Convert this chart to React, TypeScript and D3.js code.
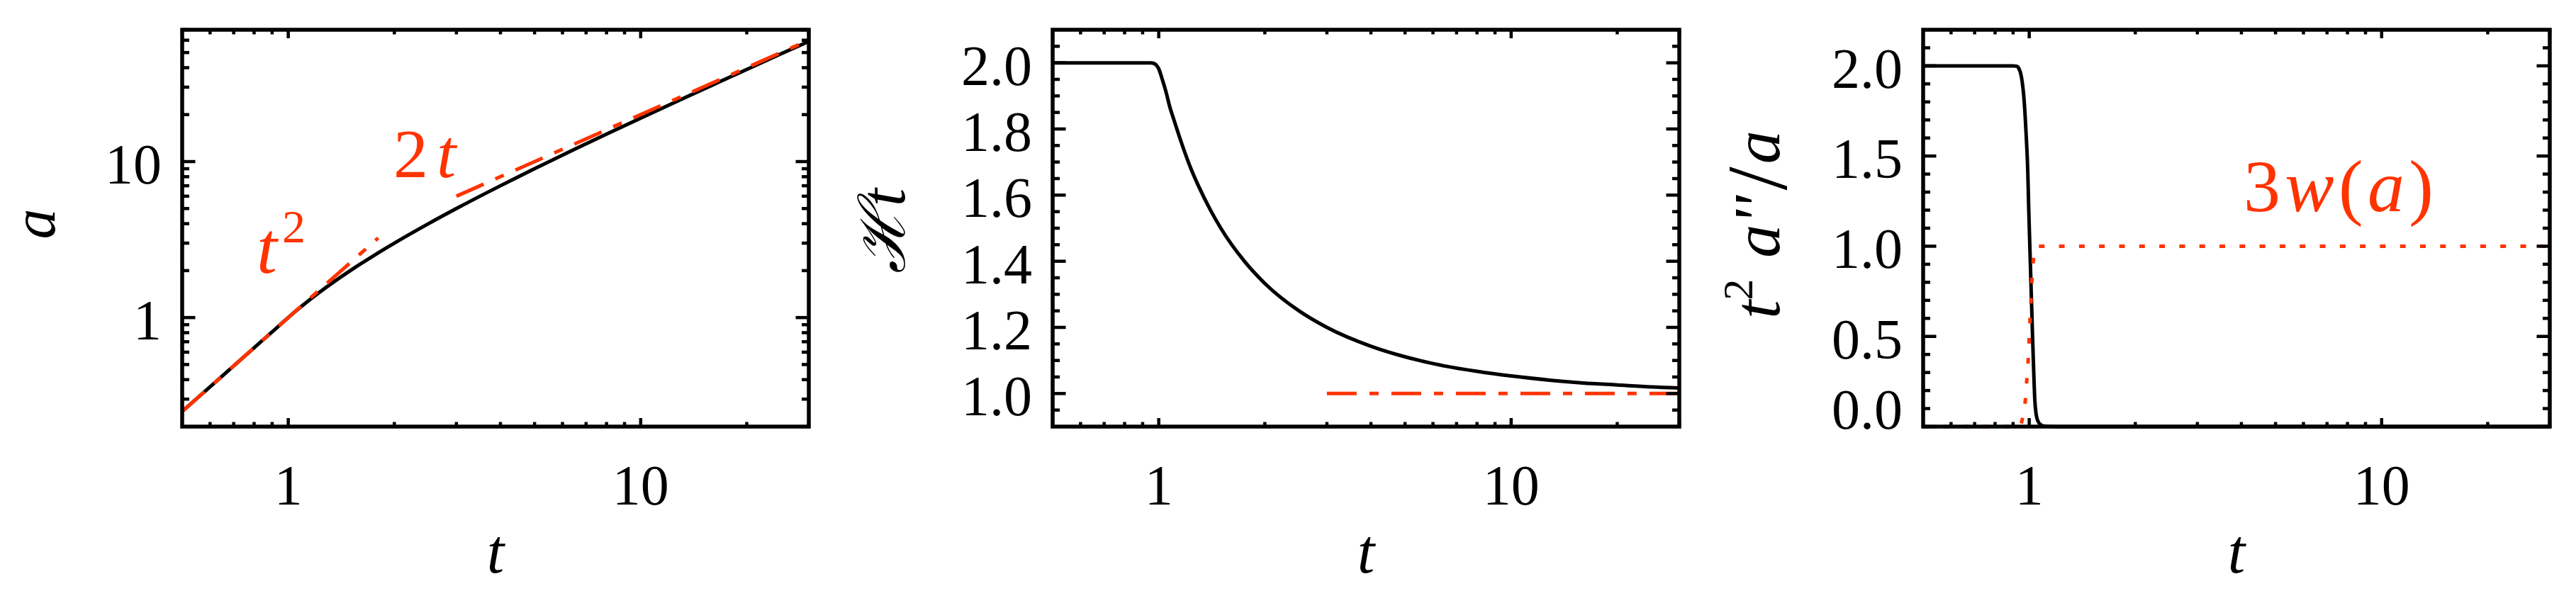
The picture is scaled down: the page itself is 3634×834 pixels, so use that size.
import React from 'react';
import * as d3 from 'd3';

// ---------- data ----------
// Panel 1: scale factor a(t)
const scaleT = [0.5, 0.6, 0.7, 0.8, 0.9, 0.95, 1.0, 1.05, 1.1, 1.2, 1.35, 1.5, 1.75, 2, 2.5, 3, 4, 5, 6.5, 8, 10, 13, 16, 20, 25, 30];
const scaleA = [0.25, 0.36, 0.49, 0.64, 0.81, 0.9025, 1.0, 1.1, 1.2, 1.4, 1.7, 2.0, 2.5, 3.0, 4.0, 5.0, 7.0, 9.0, 12, 15, 19, 25, 31, 39, 49, 59];
// Reference power laws t^2 and 2t
const guideT2T = [0.5, 1.8];
const guideT2A = [0.25, 3.24];
const guide2tT = [3, 30];
const guide2tA = [6, 60];

// Panel 2: H t
const hubbleT = [0.5, 0.9, 0.95, 0.97, 0.99, 1.0, 1.02, 1.05, 1.074, 1.1, 1.15, 1.234, 1.3, 1.4, 1.5, 1.75, 2, 2.5, 3, 4, 5, 6.5, 8, 10, 13, 16, 20, 25, 30];
const hubbleHt = [2.0, 2.0, 2.0, 1.998, 1.99, 1.982, 1.955, 1.91, 1.868, 1.833, 1.77, 1.68, 1.625, 1.556, 1.5, 1.4, 1.333, 1.25, 1.2, 1.143, 1.111, 1.083, 1.067, 1.053, 1.04, 1.032, 1.026, 1.02, 1.017];
const hubbleRefT = [3, 30];
const hubbleRefV = [1.0, 1.0];

// Panel 3: t^2 a''/a and 3w(a)
const accelT = [0.5, 0.9, 0.92, 0.935, 0.95, 0.967, 0.98, 0.99, 0.997, 1.004, 1.013, 1.022, 1.03, 1.037, 1.046, 1.056, 1.075, 1.1, 1.2, 30];
const accelV = [2.0, 2.0, 1.998, 1.985, 1.94, 1.81, 1.62, 1.43, 1.2, 1.0, 0.75, 0.5, 0.3, 0.15, 0.07, 0.035, 0.012, 0.003, 0.0, 0.0];
const eosT = [0.5, 0.94, 0.95, 0.958, 0.976, 0.985, 0.994, 1.003, 1.011, 1.02, 1.03, 1.04, 1.05, 30];
const eosV = [0.0, 0.0, 0.02, 0.05, 0.157, 0.27, 0.38, 0.55, 0.69, 0.85, 0.94, 0.98, 1.0, 1.0];

// ---------- axis ticks ----------
const xMajor = [1, 10];
const xMajorLabels = ['1', '10'];
const xMinor = [0.6, 0.7, 0.8, 0.9, 2, 3, 4, 5, 6, 7, 8, 9, 20, 30];

const y1Major = [1, 10];
const y1Labels = ['1', '10'];
const y1Minor = [0.3, 0.4, 0.5, 0.6, 0.7, 0.8, 0.9, 2, 3, 4, 5, 6, 7, 8, 9, 20, 30, 40, 50, 60, 70];

const y2Major = [1.0, 1.2, 1.4, 1.6, 1.8, 2.0];
const y2Labels = ['1.0', '1.2', '1.4', '1.6', '1.8', '2.0'];
const y2Minor = [0.95, 1.05, 1.1, 1.15, 1.25, 1.3, 1.35, 1.45, 1.5, 1.55, 1.65, 1.7, 1.75, 1.85, 1.9, 1.95, 2.05];

const y3Major = [0.0, 0.5, 1.0, 1.5, 2.0];
const y3Labels = ['0.0', '0.5', '1.0', '1.5', '2.0'];
const y3Minor = [0.1, 0.2, 0.3, 0.4, 0.6, 0.7, 0.8, 0.9, 1.1, 1.2, 1.3, 1.4, 1.6, 1.7, 1.8, 1.9, 2.1];

// ---------- style ----------
const W = 3634;
const H = 834;
const RED = '#ff3300';
const FONT = "'Liberation Serif', 'DejaVu Serif', serif";
const TOP = 42;
const BOTTOM = 602;
const PW = 884;
const LEFTS = [257, 1485, 2713];
const DASHDOT = '42 18 13 18';
const DOTTED = '8 20.3';
const LW = 5;

type Scale = (v: number) => number;

function zip(a: number[], b: number[]): [number, number][] {
  return a.map((v, i) => [v, b[i]] as [number, number]);
}

function Frame({ x0, x: xs, y: ys, yMajor, yLabels, yMinor }: {
  x0: number; x: Scale; y: Scale; yMajor: number[]; yLabels: string[]; yMinor: number[];
}) {
  const x1 = x0 + PW;
  const xMajLen = 12, xMinLen = 6.5, yMajLen = 18.5, yMinLen = 10;
  const tickW = 4.5;
  const els: React.ReactNode[] = [];
  xMajor.forEach((t, i) => {
    const px = xs(t);
    els.push(<line key={`xb${i}`} x1={px} x2={px} y1={BOTTOM} y2={BOTTOM - xMajLen} stroke="#000" strokeWidth={tickW} />);
    els.push(<line key={`xt${i}`} x1={px} x2={px} y1={TOP} y2={TOP + xMajLen} stroke="#000" strokeWidth={tickW} />);
    els.push(<text key={`xl${i}`} x={px} y={712} textAnchor="middle" fontSize={80} fontFamily={FONT}>{xMajorLabels[i]}</text>);
  });
  xMinor.forEach((t, i) => {
    const px = xs(t);
    els.push(<line key={`xmb${i}`} x1={px} x2={px} y1={BOTTOM} y2={BOTTOM - xMinLen} stroke="#000" strokeWidth={tickW} />);
    els.push(<line key={`xmt${i}`} x1={px} x2={px} y1={TOP} y2={TOP + xMinLen} stroke="#000" strokeWidth={tickW} />);
  });
  yMajor.forEach((v, i) => {
    const py = ys(v);
    els.push(<line key={`yl${i}`} x1={x0} x2={x0 + yMajLen} y1={py} y2={py} stroke="#000" strokeWidth={tickW} />);
    els.push(<line key={`yr${i}`} x1={x1} x2={x1 - yMajLen} y1={py} y2={py} stroke="#000" strokeWidth={tickW} />);
    els.push(<text key={`ylab${i}`} x={x0 - 29} y={Math.min(py + 31, BOTTOM + 3)} textAnchor="end" fontSize={80} fontFamily={FONT}>{yLabels[i]}</text>);
  });
  yMinor.forEach((v, i) => {
    const py = ys(v);
    els.push(<line key={`yml${i}`} x1={x0} x2={x0 + yMinLen} y1={py} y2={py} stroke="#000" strokeWidth={tickW} />);
    els.push(<line key={`ymr${i}`} x1={x1} x2={x1 - yMinLen} y1={py} y2={py} stroke="#000" strokeWidth={tickW} />);
  });
  return (
    <g>
      {els}
      <rect x={x0} y={TOP} width={PW} height={BOTTOM - TOP} fill="none" stroke="#000" strokeWidth={5.5} />
      <text x={x0 + PW / 2} y={808} textAnchor="middle" fontSize={88} fontStyle="italic" fontFamily={FONT}>t</text>
    </g>
  );
}

export default function App() {
  const xs = LEFTS.map((l) => d3.scaleLog().domain([0.5, 30]).range([l, l + PW]));
  const y1 = d3.scaleLog().domain([0.2, 70]).range([BOTTOM, TOP]);
  const y2 = d3.scaleLinear().domain([0.9, 2.1]).range([BOTTOM, TOP]);
  const y3 = d3.scaleLinear().domain([0.0, 2.2]).range([BOTTOM, TOP]);

  const mk = (x: Scale, y: Scale) =>
    d3.line<[number, number]>().x((d) => x(d[0])).y((d) => y(d[1])).curve(d3.curveMonotoneX);
  const lin = (x: Scale, y: Scale) =>
    d3.line<[number, number]>().x((d) => x(d[0])).y((d) => y(d[1]));

  return (
    <svg width={W} height={H} style={{ position: 'absolute', left: 0, top: 0, background: '#fff' }}>
      <rect x={0} y={0} width={W} height={H} fill="#fff" />

      {/* Panel 1 */}
      <path d={mk(xs[0], y1)(zip(scaleT, scaleA)) || ''} fill="none" stroke="#000" strokeWidth={LW} />
      <path d={lin(xs[0], y1)(zip(guideT2T, guideT2A)) || ''} fill="none" stroke={RED} strokeWidth={LW} strokeDasharray={DASHDOT} />
      <path d={lin(xs[0], y1)(zip(guide2tT, guide2tA)) || ''} fill="none" stroke={RED} strokeWidth={LW} strokeDasharray={DASHDOT} />
      <Frame x0={LEFTS[0]} x={xs[0]} y={y1} yMajor={y1Major} yLabels={y1Labels} yMinor={y1Minor} />
      <text x={362} y={385} fontSize={104} fontFamily={FONT} fill={RED}>
        <tspan fontStyle="italic">t</tspan>
      </text>
      <text x={398} y={342} fontSize={66} fontFamily={FONT} fill={RED}>2</text>
      <text x={555} y={250} fontSize={98} fontFamily={FONT} fill={RED}>
        2<tspan fontStyle="italic" dx={12}>t</tspan>
      </text>
      <g transform="translate(77,316) rotate(-90)">
        <text x={0} y={0} textAnchor="middle" fontSize={86} fontStyle="italic" fontFamily={FONT}>a</text>
      </g>

      {/* Panel 2 */}
      <path d={mk(xs[1], y2)(zip(hubbleT, hubbleHt)) || ''} fill="none" stroke="#000" strokeWidth={LW} />
      <path d={lin(xs[1], y2)(zip(hubbleRefT, hubbleRefV)) || ''} fill="none" stroke={RED} strokeWidth={LW} strokeDasharray={DASHDOT} />
      <Frame x0={LEFTS[1]} x={xs[1]} y={y2} yMajor={y2Major} yLabels={y2Labels} yMinor={y2Minor} />
      <g transform="translate(1276,326) rotate(-90)">
        <text x={0} y={0} textAnchor="middle" fontSize={90} fontStyle="italic" fontFamily={FONT}>ℋt</text>
      </g>

      {/* Panel 3 */}
      <path d={mk(xs[2], y3)(zip(accelT, accelV)) || ''} fill="none" stroke="#000" strokeWidth={LW} />
      <path d={mk(xs[2], y3)(zip(eosT, eosV)) || ''} fill="none" stroke={RED} strokeWidth={LW} strokeDasharray={DOTTED} />
      <Frame x0={LEFTS[2]} x={xs[2]} y={y3} yMajor={y3Major} yLabels={y3Labels} yMinor={y3Minor} />
      <text x={3165} y={298} fontSize={104} fontFamily={FONT} fill={RED} textLength={268} lengthAdjust="spacing">
        3<tspan fontStyle="italic">w</tspan>(<tspan fontStyle="italic">a</tspan>)
      </text>
      <g transform="translate(2510,317) rotate(-90)">
        <text x={0} y={0} textAnchor="middle" fontSize={94} fontFamily={FONT}>
          <tspan fontStyle="italic">t</tspan>
          <tspan fontSize={60} dy={-38}>2</tspan>
          <tspan dy={38} dx={30} fontStyle="italic">a''</tspan>
          <tspan dx={8} fontSize={120} dy={10}>/</tspan>
          <tspan fontStyle="italic" dy={-10} dx={4}>a</tspan>
        </text>
      </g>
    </svg>
  );
}
